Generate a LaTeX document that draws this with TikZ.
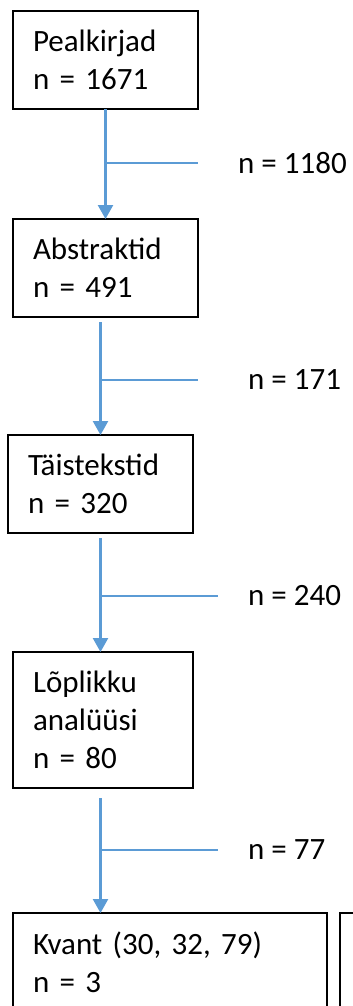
\documentclass[tikz,border=0pt]{standalone}
\usepackage{fontspec}
\setmainfont{Carlito}
\usetikzlibrary{arrows.meta,positioning}
\definecolor{flowblue}{HTML}{5B9BD5}

\begin{document}
\begin{tikzpicture}[x=1pt,y=-1pt,
    every node/.style={font=\fontsize{31}{38}\selectfont},
    box/.style={draw,line width=2.2pt,outer sep=0pt,align=left,
      inner xsep=20pt,inner ysep=0pt,minimum height=98pt},
    flow/.style={flowblue,line width=2.4pt,-{Triangle[width=15pt,length=14pt]}},
    branch/.style={flowblue,line width=1.1pt},
    count/.style={anchor=west,inner sep=0pt}]

  \useasboundingbox (0,0) rectangle (353,1006);

  % stages
  \node[box,text width=145pt,anchor=north west]  (titles)     at (13,11)  {Pealkirjad\\n = 1671};
  \node[box,text width=145pt,below=110pt of titles.south west,anchor=north west]  (abstracts)  {Abstraktid\\n = 491};
  \node[box,text width=145pt,below=118pt of abstracts.south west,anchor=north west,xshift=-5pt]  (fulltexts)  {Täistekstid\\n = 320};
  \node[box,text width=140pt,minimum height=136pt,below=119pt of fulltexts.south west,anchor=north west,xshift=5pt]  (final)  {Lõplikku\\analüüsi\\n = 80};
  \node[box,text width=274pt,below=125pt of final.south west,anchor=north west]  (quant)  {Kvant (30, 32, 79)\\n = 3};
  \node[box,minimum width=314pt,right=13pt of quant.north east,anchor=north west]  (qual)  {};

  % excluded counts
  \node[count]  (drop1)  at (238,163)  {n = 1180};
  \node[count]  (drop2)  at (248,380)  {n = 171};
  \node[count]  (drop3)  at (248,596)  {n = 240};
  \node[count]  (drop4)  at (248,850)  {n = 77};

  % flow
  \draw[flow] (titles.south) -- (titles.south |- abstracts.north);
  \draw[flow] ([yshift=-5pt]abstracts.south -| fulltexts.north) -- (fulltexts.north);
  \draw[flow] ([yshift=-5pt]fulltexts.south) -- (fulltexts.south |- final.north);
  \draw[flow] ([yshift=-10pt]final.south -| fulltexts.south) -- (fulltexts.south |- quant.north);

  \draw[branch] ([xshift=1pt]titles.south |- drop1.west) -- ([xshift=-40pt]drop1.west);
  \draw[branch] ([xshift=1pt]fulltexts.north |- drop2.west) -- ([xshift=-50pt]drop2.west);
  \draw[branch] ([xshift=1pt]fulltexts.south |- drop3.west) -- ([xshift=-30pt]drop3.west);
  \draw[branch] ([xshift=1pt]fulltexts.south |- drop4.west) -- ([xshift=-30pt]drop4.west);
\end{tikzpicture}
\end{document}
